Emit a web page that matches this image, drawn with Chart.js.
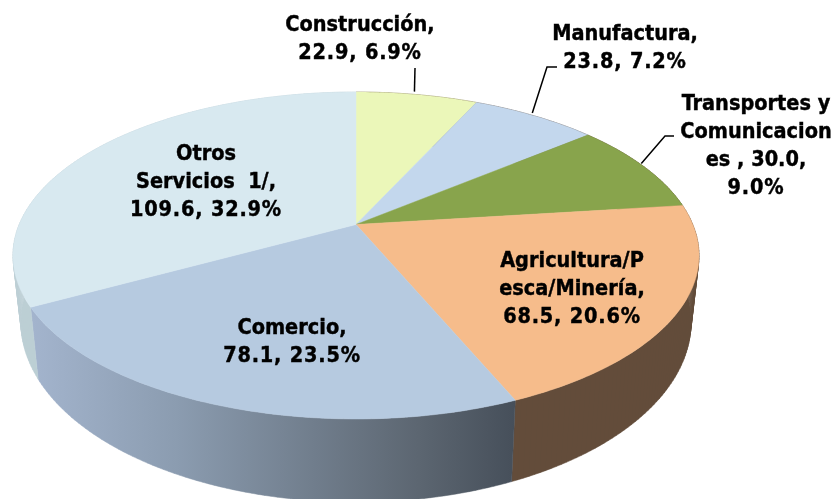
<!DOCTYPE html>
<html>
<head>
<meta charset="utf-8">
<style>
    html, body { margin: 0; padding: 0; background: #fff; overflow: hidden; }
    #chart { display: block; }
</style>
<script src="https://cdn.jsdelivr.net/npm/chart.js@4"></script>
</head>
<body>
<canvas id="chart" width="837" height="499"></canvas>
<script>
const categories = ["Construcción", "Manufactura", "Transportes y Comunicaciones", "Agricultura/Pesca/Minería", "Comercio", "Otros Servicios 1/"];
const amounts = [22.9, 23.8, 30.0, 68.5, 78.1, 109.6];
const labelLines = [
    ["Construcción,", "22.9, 6.9%"],
    ["Manufactura,", "23.8, 7.2%"],
    ["Transportes y", "Comunicacion", "es , 30.0,", "9.0%"],
    ["Agricultura/P", "esca/Minería,", "68.5, 20.6%"],
    ["Comercio,", "78.1, 23.5%"],
    ["Otros", "Servicios  1/,", "109.6, 32.9%"]
];
const topColors = ["#ebf7b9", "#c3d7ed", "#88a44c", "#f6bc8b", "#b6cae0", "#d8e9f0"];

// label centre x, first line centre y
const labelPos = [[360, 25], [625, 34], [756, 104], [572, 261], [292, 328], [206, 154]];
// elbow points of the leader lines, going from the slice edge out to the label
const leaders = { 0: [[415, 68]], 1: [[547, 67], [557, 67]], 2: [[665, 136], [674, 136]] };

// the pie is seen in perspective, so the centre is not the middle of the ellipse
const topFace = { x: 356, y: 224.5, a: 336.8, b: 157.6, k: 0.1896 };
const bottomFace = { x: 356, y: 288, a: 329, b: 173.6, k: 0.1896 };

function project(face, angle) {
    let t = angle + Math.PI / 2; // chart.js angle, 0 at 3 o'clock -> 0 at 12 o'clock
    let d = 1 + face.k * Math.cos(t);
    return [face.x + face.a * Math.sin(t) / d, face.y - face.b * Math.cos(t) / d];
}

function arcPoints(face, start, end) {
    let pts = [];
    let steps = Math.max(2, Math.ceil((end - start) * 60));
    for (let i = 0; i <= steps; i++) {
        pts.push(project(face, start + (end - start) * i / steps));
    }
    return pts;
}

function addPoly(ctx, pts) {
    pts.forEach((p, i) => i ? ctx.lineTo(p[0], p[1]) : ctx.moveTo(p[0], p[1]));
    ctx.closePath();
}

function wallFill(ctx, i) {
    if (i === 4) {
        let g = ctx.createLinearGradient(32, 0, 515, 0);
        g.addColorStop(0, "#a3b4cd");
        g.addColorStop(0.3, "#8b9cb0");
        g.addColorStop(0.8, "#5c6671");
        g.addColorStop(1, "#464f5a");
        return g;
    }
    if (i === 5) return "#bccfd4";
    return "#634c3a";
}

const pie3d = {
    id: "pie3d",
    beforeDatasetDraw(chart) {
        let ctx = chart.ctx;
        let arcs = chart.getDatasetMeta(0).data;
        ctx.save();
        ctx.lineWidth = 0.5;
        // side walls first, the top face paints over whatever is behind it
        arcs.forEach((arc, i) => {
            let upper = arcPoints(topFace, arc.startAngle, arc.endAngle);
            let lower = arcPoints(bottomFace, arc.startAngle, arc.endAngle);
            ctx.fillStyle = wallFill(ctx, i);
            ctx.strokeStyle = ctx.fillStyle;
            ctx.beginPath();
            for (let n = 0; n < upper.length - 1; n++) {
                addPoly(ctx, [upper[n], upper[n + 1], lower[n + 1], lower[n]]);
            }
            ctx.fill();
            ctx.stroke();
        });
        arcs.forEach((arc, i) => {
            ctx.beginPath();
            addPoly(ctx, [[topFace.x, topFace.y]].concat(arcPoints(topFace, arc.startAngle, arc.endAngle)));
            ctx.fillStyle = topColors[i];
            ctx.strokeStyle = topColors[i];
            ctx.fill();
            ctx.stroke();
        });
        ctx.restore();
        return false;
    },
    afterDatasetsDraw(chart) {
        let ctx = chart.ctx;
        let arcs = chart.getDatasetMeta(0).data;
        ctx.save();
        ctx.strokeStyle = "#000";
        ctx.lineWidth = 1.5;
        Object.keys(leaders).forEach(i => {
            let arc = arcs[i];
            let start = project(topFace, (arc.startAngle + arc.endAngle) / 2);
            ctx.beginPath();
            ctx.moveTo(start[0] - 2.5, start[1] - 3);
            leaders[i].forEach(p => ctx.lineTo(p[0], p[1]));
            ctx.stroke();
        });
        ctx.fillStyle = "#000";
        ctx.lineWidth = 0.4;
        ctx.font = 'bold 21.5px "DejaVu Sans Condensed", "DejaVu Sans"';
        ctx.textAlign = "center";
        ctx.textBaseline = "middle";
        labelLines.forEach((lines, i) => {
            lines.forEach((line, n) => {
                // the digits of the original font run a bit wider
                ctx.letterSpacing = /\d/.test(line) && line.includes("%") ? "0.8px" : "0px";
                ctx.fillText(line, labelPos[i][0], labelPos[i][1] + n * 28);
                ctx.strokeText(line, labelPos[i][0], labelPos[i][1] + n * 28);
            });
        });
        ctx.restore();
    }
};

new Chart(document.getElementById("chart"), {
    type: "pie",
    data: {
        labels: categories,
        datasets: [{ data: amounts, backgroundColor: topColors, borderWidth: 0 }]
    },
    options: {
        responsive: false,
        animation: false,
        plugins: { legend: { display: false }, tooltip: { enabled: false } }
    },
    plugins: [pie3d]
});
</script>
</body>
</html>
